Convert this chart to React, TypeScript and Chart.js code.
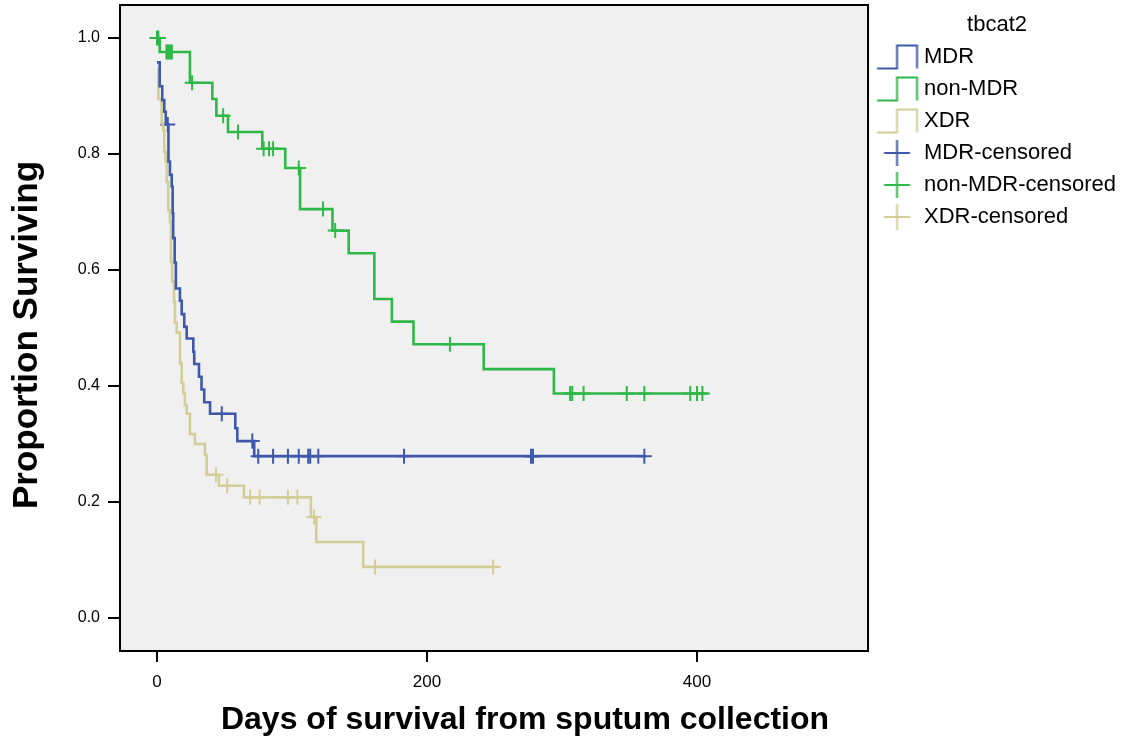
import React, { useEffect, useRef } from 'react';
import { Chart, registerables } from 'chart.js';

Chart.register(...registerables);

const FONT = 'Arial, "Liberation Sans", Helvetica, sans-serif';

// Axis ticks
const X_TICKS = [0, 200, 400];
const Y_TICKS = [0, 0.2, 0.4, 0.6, 0.8, 1.0];
const X_RANGE = [-27.4, 526.7];
const Y_RANGE = [-0.057, 1.057];

// Group labels and colours
const GROUPS = ['MDR', 'non-MDR', 'XDR'];
const COLORS = ['#3E58AC', '#2EB848', '#D3CE97'];

// Kaplan-Meier steps: day of event, survival proportion after it (last entry = end of follow-up)
const mdrDays = [0, 2, 3.9, 5.4, 6.5, 8.5, 9.6, 10.9, 11.6, 12, 13.1, 14, 17, 18.3, 20.2, 22, 26.9, 27.6, 31.1, 33, 35, 39.3, 58, 59.5, 72, 362];
const mdrSurv = [0.958, 0.917, 0.893, 0.873, 0.851, 0.787, 0.764, 0.744, 0.698, 0.655, 0.613, 0.568, 0.547, 0.524, 0.502, 0.482, 0.459, 0.438, 0.416, 0.394, 0.372, 0.352, 0.327, 0.305, 0.279, 0.279];
const mdrCensored = [8, 48, 70.6, 75, 86, 97, 105, 112, 113.5, 119.5, 183, 277, 278.5, 361];

const nonMdrDays = [0, 2, 24.4, 41, 44, 52.6, 78, 95, 106, 130, 142, 161, 174, 190, 242, 294, 408];
const nonMdrSurv = [1.0, 0.976, 0.923, 0.895, 0.866, 0.838, 0.809, 0.776, 0.705, 0.668, 0.629, 0.55, 0.511, 0.472, 0.429, 0.387, 0.387];
const nonMdrCensored = [0, 1, 7, 8, 9, 10, 11, 26, 49, 60, 79, 83, 86, 105, 123, 132, 217, 306, 307.6, 316, 348, 361, 395, 400, 404];

const xdrDays = [0, 1, 3.5, 4.7, 5.4, 6.4, 7.2, 8.4, 9.6, 10.4, 11.3, 12.6, 13.3, 14.6, 17, 18.3, 19.5, 20.7, 22, 24.4, 28.1, 35.5, 36.8, 45.9, 64.4, 114, 118, 152.8, 252];
const xdrSurv = [0.947, 0.895, 0.853, 0.841, 0.804, 0.787, 0.752, 0.703, 0.683, 0.614, 0.58, 0.545, 0.509, 0.492, 0.439, 0.405, 0.387, 0.367, 0.352, 0.317, 0.3, 0.281, 0.247, 0.228, 0.208, 0.174, 0.131, 0.088, 0.088];
const xdrCensored = [43.7, 52, 69, 76, 97, 104, 116.3, 161.5, 249];

const LEGEND_TITLE = 'tbcat2';
const X_TITLE = 'Days of survival from sputum collection';
const Y_TITLE = 'Proportion Surviving';

const STEP_DAYS = [mdrDays, nonMdrDays, xdrDays];
const STEP_SURV = [mdrSurv, nonMdrSurv, xdrSurv];
const CENSORED = [mdrCensored, nonMdrCensored, xdrCensored];

function survivalAt(days: number[], surv: number[], t: number): number {
  let v = surv[0];
  for (let i = 0; i < days.length; i++) {
    if (days[i] <= t) v = surv[i];
  }
  return v;
}

function makeStepIcon(color: string): HTMLCanvasElement {
  const c = document.createElement('canvas');
  c.width = 60;
  c.height = 28;
  const g = c.getContext('2d')!;
  g.strokeStyle = color;
  g.lineWidth = 2;
  g.beginPath();
  g.moveTo(11.5, 25.5);
  g.lineTo(31.5, 25.5);
  g.lineTo(31.5, 2.5);
  g.lineTo(51.5, 2.5);
  g.lineTo(51.5, 25.5);
  g.stroke();
  return c;
}

function makeCrossIcon(color: string): HTMLCanvasElement {
  const c = document.createElement('canvas');
  c.width = 60;
  c.height = 28;
  const g = c.getContext('2d')!;
  g.strokeStyle = color;
  g.lineWidth = 2;
  g.beginPath();
  g.moveTo(18.5, 14);
  g.lineTo(44.5, 14);
  g.moveTo(31.5, 1);
  g.lineTo(31.5, 27);
  g.stroke();
  return c;
}

export default function App() {
  const ref = useRef<HTMLCanvasElement>(null);

  useEffect(() => {
    if (!ref.current) return;

    const stepSets = GROUPS.map((g, i) => ({
      type: 'line' as const,
      label: g,
      data: STEP_DAYS[i].map((d, j) => ({ x: d, y: STEP_SURV[i][j] })),
      stepped: true,
      borderColor: COLORS[i],
      backgroundColor: COLORS[i],
      borderWidth: 2.6,
      pointRadius: 0,
      fill: false,
    }));
    const censorSets = GROUPS.map((g, i) => ({
      type: 'scatter' as const,
      label: g + '-censored',
      data: CENSORED[i].map((d) => ({ x: d, y: survivalAt(STEP_DAYS[i], STEP_SURV[i], d) })),
      showLine: false,
      pointStyle: 'cross',
      pointRadius: 7.5,
      pointHoverRadius: 7.5,
      borderWidth: 2,
      borderColor: COLORS[i],
      backgroundColor: COLORS[i],
    }));

    const icons = [
      ...COLORS.map(makeStepIcon),
      ...COLORS.map(makeCrossIcon),
    ];

    const framePlugin = {
      id: 'kmFrame',
      beforeDraw(chart: any) {
        const { ctx, chartArea: a, width, height } = chart;
        ctx.save();
        ctx.fillStyle = '#ffffff';
        ctx.fillRect(0, 0, width, height);
        ctx.fillStyle = '#F0F0F0';
        ctx.fillRect(a.left, a.top, a.right - a.left, a.bottom - a.top);
        ctx.restore();
      },
      afterDraw(chart: any) {
        const { ctx, chartArea: a } = chart;
        ctx.save();
        ctx.strokeStyle = '#000';
        ctx.lineWidth = 2;
        ctx.strokeRect(a.left, a.top, a.right - a.left, a.bottom - a.top);
        ctx.fillStyle = '#000';
        ctx.textAlign = 'center';
        ctx.textBaseline = 'middle';
        ctx.font = 'bold 32px ' + FONT;
        ctx.fillText(X_TITLE, (a.left + a.right) / 2 + 31, 720);
        ctx.translate(27, (a.top + a.bottom) / 2 + 7);
        ctx.rotate(-Math.PI / 2);
        ctx.font = 'bold 35px ' + FONT;
        ctx.fillText(Y_TITLE, 0, 0);
        ctx.restore();
      },
    };

    const chart = new Chart(ref.current, {
      type: 'line',
      data: { datasets: [...stepSets, ...censorSets] as any },
      plugins: [framePlugin],
      options: {
        responsive: false,
        animation: false,
        devicePixelRatio: 1,
        layout: { autoPadding: false, padding: { top: 5, right: 14, left: 0, bottom: 0 } },
        plugins: {
          tooltip: { enabled: false },
          legend: {
            position: 'right',
            align: 'start',
            title: {
              display: true,
              text: LEGEND_TITLE,
              color: '#000',
              font: { size: 22, family: FONT, lineHeight: 1 },
              padding: { top: 9, bottom: 0 },
            },
            labels: {
              usePointStyle: true,
              pointStyleWidth: 35,
              padding: 10,
              color: '#000',
              font: { size: 22, family: FONT },
              generateLabels: (c: any) =>
                c.data.datasets.map((ds: any, i: number) => ({
                  text: ds.label,
                  pointStyle: icons[i],
                  fillStyle: 'rgba(0,0,0,0)',
                  strokeStyle: 'rgba(0,0,0,0)',
                  lineWidth: 0,
                  hidden: false,
                  datasetIndex: i,
                  fontColor: '#000',
                })),
            },
          },
        },
        scales: {
          x: {
            type: 'linear',
            min: X_RANGE[0],
            max: X_RANGE[1],
            afterBuildTicks: (s: any) => {
              s.ticks = X_TICKS.map((v) => ({ value: v }));
            },
            afterFit: (s: any) => {
              s.height = 89;
              s.paddingLeft = 0;
              s.paddingRight = 0;
            },
            border: { display: false },
            grid: { drawOnChartArea: false, drawTicks: true, tickLength: 11, color: '#000', lineWidth: 2 },
            ticks: {
              color: '#000',
              font: { size: 17, family: FONT },
              padding: 10,
              maxRotation: 0,
              autoSkip: false,
              callback: (v: any) => String(v),
            },
            title: { display: false },
          },
          y: {
            type: 'linear',
            min: Y_RANGE[0],
            max: Y_RANGE[1],
            afterBuildTicks: (s: any) => {
              s.ticks = Y_TICKS.map((v) => ({ value: v }));
            },
            afterFit: (s: any) => {
              s.width = 120;
              s.paddingTop = 0;
              s.paddingBottom = 0;
            },
            border: { display: false },
            grid: { drawOnChartArea: false, drawTicks: true, tickLength: 12, color: '#000', lineWidth: 2 },
            ticks: {
              color: '#000',
              font: { size: 16, family: FONT },
              padding: 8,
              autoSkip: false,
              callback: (v: any) => Number(v).toFixed(1),
            },
            title: { display: false },
          },
        },
      } as any,
    });

    return () => chart.destroy();
  }, []);

  return (
    <div style={{ position: 'absolute', left: 0, top: 0, width: 1140, height: 740, background: '#fff' }}>
      <canvas ref={ref} width={1140} height={740} style={{ display: 'block' }} />
    </div>
  );
}
